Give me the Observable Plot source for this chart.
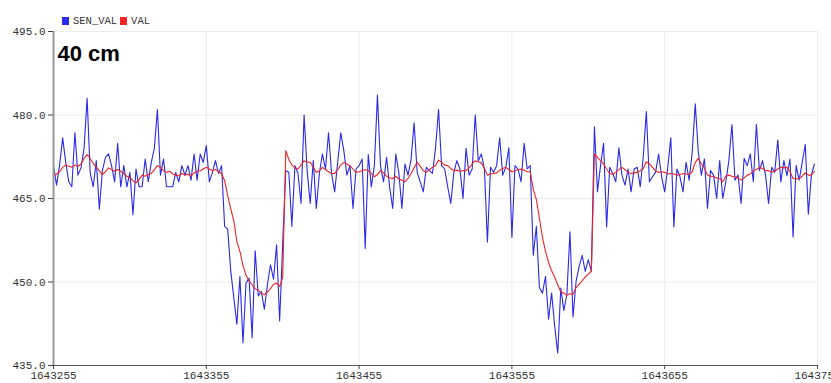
<!DOCTYPE html>
<html><head><meta charset="utf-8">
<script src="https://cdn.jsdelivr.net/npm/d3@7"></script>
<script src="https://cdn.jsdelivr.net/npm/@observablehq/plot@0.6"></script>
<style>
body{margin:0;background:#fff;}
#wrap{position:relative;width:831px;height:383px;overflow:hidden;}
#legend{position:absolute;left:62px;top:15px;font:10.5px "Liberation Mono",monospace;color:#333;display:flex;align-items:center;line-height:12px;}
.sw{display:inline-block;width:7px;height:8px;margin-right:4px;}
</style></head><body><div id="wrap"><div id="legend"></div></div>
<script>
const seriesNames = ["SEN_VAL", "VAL"];
const seriesColors = ["#2a2ae8", "#f02424"];
const titleText = "40 cm";
const xTicks = [1643255, 1643355, 1643455, 1643555, 1643655, 1643755];
const yTicks = [435, 450, 465, 480, 495];
const sampleStart = 1643255;
const sampleStep = 2;

const senVal = [
470.9,467.4,471.0,475.9,471.5,468.0,467.1,476.8,469.2,470.5,
474.0,483.0,469.7,467.1,471.8,463.1,470.0,472.4,473.0,470.9,
468.0,474.9,467.1,470.9,467.1,469.7,462.1,470.3,467.1,467.1,
472.1,468.0,471.5,474.0,481.0,469.2,472.1,467.1,467.1,467.1,
469.7,468.0,470.9,469.2,470.9,468.3,473.0,468.3,473.0,471.5,
474.5,468.0,469.7,471.8,469.5,470.9,460.0,459.5,452.0,447.2,
442.4,451.0,439.1,449.8,450.7,440.0,455.6,447.5,448.3,445.1,
449.5,453.1,450.5,456.7,443.0,457.0,470.0,469.7,460.0,470.9,
469.5,464.1,480.0,470.0,464.1,471.8,463.2,469.5,473.0,470.3,
476.8,469.5,466.2,471.5,476.8,473.6,469.2,470.9,463.2,470.3,
470.9,472.1,456.0,472.9,467.1,470.9,483.6,470.9,468.0,472.4,
467.0,463.2,473.0,469.7,463.2,471.2,469.2,472.0,478.6,469.7,
468.0,466.2,470.6,470.0,469.5,474.0,481.0,470.9,470.3,467.1,
464.1,469.7,471.8,470.3,465.0,474.0,469.2,470.3,480.0,471.8,
473.0,470.3,457.2,470.6,469.7,470.9,475.9,469.2,470.6,474.1,
458.0,470.9,470.3,468.0,474.9,470.3,470.9,454.8,460.0,449.0,
448.0,451.0,443.3,448.0,442.1,437.2,448.9,444.9,447.8,459.0,
443.7,450.1,452.8,454.8,451.9,454.0,451.9,477.9,466.2,470.9,
474.9,459.9,470.6,469.5,468.0,474.1,469.2,467.4,470.3,466.2,
470.3,470.6,467.1,472.6,480.6,468.0,468.9,469.7,473.0,468.9,
466.2,470.6,475.9,459.9,470.3,468.9,466.2,471.5,468.3,473.3,
482.0,473.3,469.2,472.1,463.2,470.0,469.2,465.0,471.8,465.0,
468.0,471.8,478.3,468.3,469.2,464.1,472.2,470.9,473.0,468.0,
478.3,470.0,471.8,469.2,464.1,470.6,469.7,475.5,468.0,471.8,
469.1,472.1,458.1,470.9,468.3,471.5,474.7,462.2,469.2,471.2
];

const val = [
469.1,469.4,469.8,470.6,471.0,470.8,470.6,471.0,470.8,471.2,
472.2,472.9,472.2,471.3,470.6,470.0,469.3,469.8,470.5,470.2,
469.9,470.2,469.9,469.5,469.0,468.8,468.2,467.8,468.4,469.2,
469.0,469.3,469.5,470.2,470.9,470.6,470.0,469.7,469.9,469.4,
469.2,469.1,469.5,469.2,469.4,469.0,469.6,469.9,470.0,470.3,
470.6,470.3,470.0,470.2,469.9,469.5,468.2,465.5,463.2,461.0,
457.3,455.5,453.0,451.2,450.2,449.5,448.8,448.5,448.0,447.7,
448.2,448.8,449.6,449.8,449.2,450.8,473.6,472.0,471.0,470.5,
470.3,471.0,471.8,471.5,471.5,470.6,469.7,470.0,470.6,470.2,
469.8,469.5,469.5,470.2,471.0,471.5,471.2,470.9,470.3,469.7,
469.8,470.0,470.2,470.0,469.5,468.9,469.3,470.0,469.6,469.0,
468.7,468.6,469.0,468.5,468.3,468.0,468.6,469.5,470.5,471.5,
470.8,470.0,469.7,470.2,470.6,470.9,471.9,471.5,471.0,470.9,
470.4,470.0,470.1,469.9,470.0,470.0,470.5,471.2,471.8,471.6,
471.4,470.4,469.2,469.4,469.5,469.6,470.1,470.4,470.6,470.2,
469.8,470.0,470.2,470.3,470.1,469.8,469.8,466.7,464.8,461.5,
458.0,455.5,453.5,452.0,450.9,449.5,448.2,448.0,447.6,447.9,
447.8,449.0,449.6,450.2,450.9,451.4,451.9,473.0,472.4,471.8,
471.2,470.3,469.5,469.3,469.7,470.2,470.6,470.2,469.7,469.5,
469.6,469.7,470.0,470.4,471.6,471.2,470.6,470.0,469.7,469.8,
469.7,469.4,469.5,469.4,469.2,469.3,469.5,469.4,469.3,469.8,
471.5,472.2,471.2,470.5,469.2,469.0,468.9,468.7,468.6,468.0,
469.0,469.2,469.0,468.9,468.7,468.3,468.7,469.2,469.4,470.0,
470.2,470.6,470.4,470.0,470.0,469.7,469.9,470.3,470.6,470.5,
470.6,469.8,468.6,468.5,468.6,469.0,469.6,469.2,469.2,469.9
];

const data = senVal.map((s, i) => ({t: sampleStart + sampleStep * i, sen: s, val: val[i]}));

const legend = document.getElementById("legend");
seriesNames.forEach((n, i) => {
  const sw = document.createElement("span");
  sw.className = "sw"; sw.style.background = seriesColors[i];
  const tx = document.createElement("span");
  tx.textContent = n; tx.style.marginRight = "3px";
  legend.appendChild(sw); legend.appendChild(tx);
});

const chart = Plot.plot({
  width: 831, height: 383,
  marginLeft: 53, marginRight: 14, marginTop: 31, marginBottom: 18,
  x: {domain: [xTicks[0], xTicks[xTicks.length - 1]]},
  y: {domain: [yTicks[0], yTicks[yTicks.length - 1]]},
  style: {fontFamily: "'Liberation Mono', monospace", fontSize: "11px", color: "#333", background: "#fff", overflow: "visible"},
  marks: [
    Plot.gridX(xTicks, {stroke: "#ececec", strokeOpacity: 1}),
    Plot.gridY(yTicks, {stroke: "#ececec", strokeOpacity: 1}),
    Plot.line(data, {x: "t", y: "sen", stroke: seriesColors[0], strokeWidth: 1.1}),
    Plot.line(data, {x: "t", y: "val", stroke: seriesColors[1], strokeWidth: 1.1}),
    Plot.ruleX([xTicks[0]], {stroke: "#999", strokeWidth: 2}),
    Plot.ruleY([yTicks[0]], {stroke: "#555", strokeWidth: 1}),
    Plot.axisY({ticks: yTicks, tickFormat: d => d.toFixed(1), tickSize: 5, tickPadding: 3, stroke: "#444", fill: "#333", label: null}),
    Plot.axisX({ticks: xTicks, tickFormat: d => String(d), tickSize: 4, tickPadding: 2, stroke: "#444", fill: "#333", label: null}),
    Plot.text([titleText], {text: d => d, frameAnchor: "top-left", dx: 4, dy: 14, textAnchor: "start", lineAnchor: "top", fontSize: 22, fontWeight: "bold", fontFamily: "'Liberation Sans', Arial, sans-serif", fill: "#000"})
  ]
});
document.getElementById("wrap").insertBefore(chart, legend);
</script>
</body></html>
